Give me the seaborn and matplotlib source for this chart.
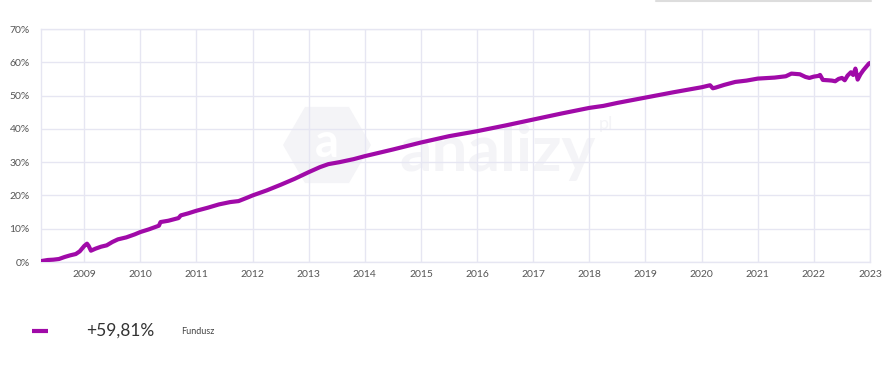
import matplotlib
matplotlib.use("Agg")
import matplotlib.pyplot as plt
from matplotlib.patches import RegularPolygon
import seaborn as sns
import pandas as pd
import numpy as np

# fractional years and cumulative return (%)
years = [2008.24, 2008.35, 2008.45, 2008.55, 2008.65, 2008.75, 2008.85, 2008.92,
         2009.0, 2009.05, 2009.08, 2009.12, 2009.2, 2009.3, 2009.4, 2009.5,
         2009.6, 2009.75, 2009.9, 2010.0, 2010.15, 2010.33, 2010.36, 2010.5,
         2010.68, 2010.72, 2010.85, 2011.0, 2011.2, 2011.4, 2011.6, 2011.75,
         2011.9, 2012.0, 2012.25, 2012.5, 2012.75, 2013.0, 2013.2, 2013.35,
         2013.55, 2013.8, 2014.0, 2014.5, 2015.0, 2015.5, 2016.0, 2016.5,
         2017.0, 2017.5, 2018.0, 2018.25, 2018.5, 2019.0, 2019.5, 2020.0,
         2020.15, 2020.2, 2020.25, 2020.4, 2020.6, 2020.8, 2021.0, 2021.3,
         2021.5, 2021.6, 2021.75, 2021.85, 2021.92, 2022.0, 2022.08, 2022.11,
         2022.16, 2022.25, 2022.32, 2022.38, 2022.44, 2022.5, 2022.55, 2022.6,
         2022.66, 2022.7, 2022.74, 2022.78, 2022.83, 2022.88, 2022.93, 2022.98, 2023.0]
values = [0.3, 0.6, 0.7, 0.9, 1.5, 2.0, 2.4, 3.2,
          4.8, 5.5, 4.8, 3.4, 4.0, 4.6, 5.0, 6.0,
          6.8, 7.4, 8.3, 9.0, 9.8, 10.9, 12.0, 12.4,
          13.2, 14.0, 14.6, 15.4, 16.3, 17.3, 18.0, 18.3,
          19.3, 20.0, 21.5, 23.2, 25.0, 27.0, 28.5, 29.4,
          30.0, 30.9, 31.8, 33.8, 35.9, 37.8, 39.3, 41.0,
          42.8, 44.6, 46.3, 46.9, 47.8, 49.4, 51.0, 52.5,
          53.1, 52.2, 52.4, 53.2, 54.1, 54.5, 55.1, 55.4,
          55.8, 56.6, 56.4, 55.6, 55.3, 55.7, 55.9, 56.2,
          54.7, 54.6, 54.5, 54.3, 55.0, 55.3, 54.6, 56.0,
          57.0, 56.2, 58.1, 54.8, 56.4, 57.6, 58.6, 59.6, 59.8]

xticks = list(range(2009, 2024))
yticks = [0, 10, 20, 30, 40, 50, 60, 70]
legend_value = "+59,81%"
legend_name = "Fundusz"

df = pd.DataFrame({"year": years, "value": values})

sns.set_theme(style="white")
plt.rcParams["font.family"] = ["Lato", "DejaVu Sans"]

W, H = 888, 374
fig = plt.figure(figsize=(8.88, 3.74), dpi=100)
fig.patch.set_facecolor("white")

grid_c = "#e6e6f2"
purple = "#a00aa8"
wm = "#f4f4f7"

# background axes in pixel coordinates for the watermark
bg = fig.add_axes([0, 0, 1, 1], zorder=0)
bg.set_xlim(0, W)
bg.set_ylim(H, 0)
bg.axis("off")
bg.add_patch(RegularPolygon((327, 145), numVertices=6, radius=44, orientation=np.pi/6,
                            facecolor=wm, edgecolor="none"))
bg.text(327, 143, "a", fontsize=34, color="white", ha="center", va="center", fontweight="bold")
bg.text(497, 152, "analizy", fontsize=46, color=wm, ha="center", va="center", fontweight="bold")
bg.text(606, 124, "pl", fontsize=13, color=wm, ha="center", va="center")

ax = fig.add_axes([41/W, 1-262/H, (870-41)/W, (262-29)/H], zorder=1)
ax.patch.set_alpha(0)

sns.lineplot(data=df, x="year", y="value", ax=ax, color=purple, linewidth=3.0,
             estimator=None, sort=False, zorder=3)

ax.set_xlim(2008.23, 2023.0)
ax.set_ylim(0, 70)
ax.set_xticks(xticks)
ax.set_xticklabels([str(t) for t in xticks])
ax.set_yticks(yticks)
ax.set_yticklabels([f"{t}%" for t in yticks])
ax.grid(True, color=grid_c, linewidth=1)
for s in ax.spines.values():
    s.set_color(grid_c)
    s.set_linewidth(1)
ax.tick_params(axis="both", length=0, labelsize=7.5, colors="#555555")
ax.tick_params(axis="x", pad=6)
ax.tick_params(axis="y", pad=8)
ax.set_xlabel("")
ax.set_ylabel("")

# top-right thin line (UI border)
fig.add_artist(plt.Line2D([656/W, 871/W], [1-0.8/H, 1-0.8/H], color="#dddddd",
                          linewidth=1.5, transform=fig.transFigure))

# legend
fig.add_artist(plt.Line2D([32/W, 48/W], [1-331/H, 1-331/H], color=purple,
                          linewidth=3, transform=fig.transFigure, solid_capstyle="butt"))
fig.text(86/W, 1-331/H, legend_value, fontsize=12.5, color="#333333", va="center", ha="left")
fig.text(181/W, 1-331/H, legend_name, fontsize=6.5, color="#444444", va="center", ha="left")

fig.savefig("out.png", dpi=100, facecolor="white")
